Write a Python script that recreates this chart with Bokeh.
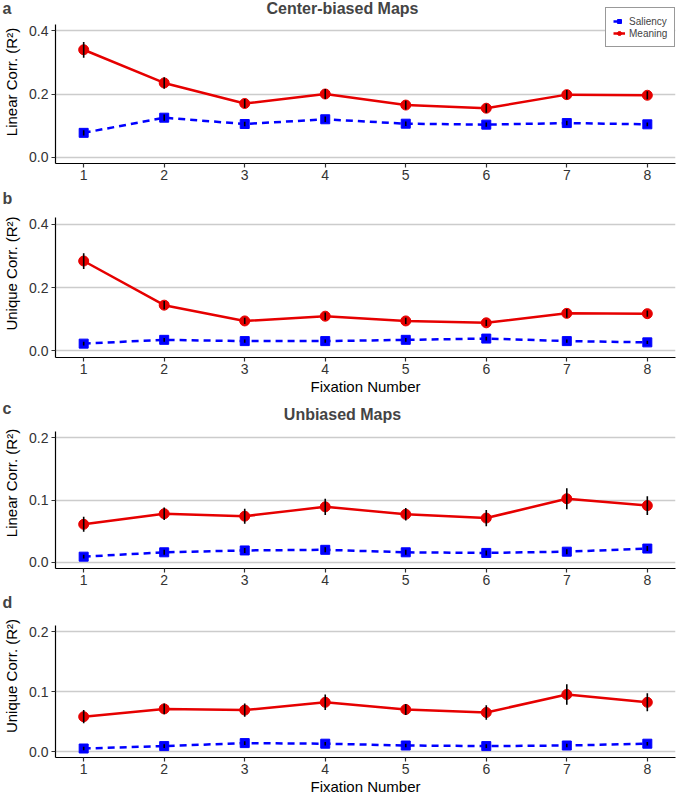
from bokeh.plotting import figure
from bokeh.layouts import column
from bokeh.models import Range1d, FixedTicker, Label, Legend, LegendItem, NumeralTickFormatter
from bokeh.embed import file_html
from bokeh.resources import INLINE

fixation = [1, 2, 3, 4, 5, 6, 7, 8]

# Panel a: center-biased, linear correlation
a_meaning = [0.340, 0.235, 0.170, 0.200, 0.165, 0.155, 0.198, 0.196]
a_meaning_err = [0.025, 0.018, 0.014, 0.016, 0.014, 0.014, 0.015, 0.013]
a_saliency = [0.077, 0.125, 0.105, 0.120, 0.106, 0.103, 0.108, 0.104]
a_saliency_err = [0.008, 0.010, 0.007, 0.009, 0.007, 0.007, 0.007, 0.006]

# Panel b: center-biased, unique correlation
b_meaning = [0.284, 0.144, 0.094, 0.109, 0.094, 0.088, 0.118, 0.117]
b_meaning_err = [0.025, 0.013, 0.010, 0.012, 0.010, 0.010, 0.014, 0.010]
b_saliency = [0.022, 0.034, 0.030, 0.030, 0.034, 0.038, 0.030, 0.026]
b_saliency_err = [0.006, 0.006, 0.005, 0.005, 0.006, 0.006, 0.005, 0.005]

# Panel c: unbiased, linear correlation
c_meaning = [0.061, 0.078, 0.074, 0.089, 0.077, 0.071, 0.102, 0.091]
c_meaning_err = [0.012, 0.010, 0.012, 0.013, 0.010, 0.013, 0.017, 0.015]
c_saliency = [0.009, 0.016, 0.019, 0.020, 0.016, 0.015, 0.017, 0.022]
c_saliency_err = [0.003, 0.004, 0.004, 0.004, 0.004, 0.004, 0.004, 0.004]

# Panel d: unbiased, unique correlation
d_meaning = [0.058, 0.071, 0.069, 0.082, 0.070, 0.065, 0.095, 0.082]
d_meaning_err = [0.011, 0.009, 0.011, 0.013, 0.009, 0.012, 0.017, 0.015]
d_saliency = [0.005, 0.009, 0.014, 0.013, 0.010, 0.009, 0.010, 0.013]
d_saliency_err = [0.003, 0.003, 0.003, 0.003, 0.003, 0.003, 0.003, 0.003]

yticks_big = [0.0, 0.2, 0.4]
yticks_small = [0.0, 0.1, 0.2]

RED = "#e60000"
BLUE = "#0000ff"
FONT = "Liberation Sans"
LEFT = 55
RIGHT = 10
FRAME_W = 685 - LEFT - RIGHT


def panel(meaning, meaning_err, saliency, saliency_err, ylabel, yticks, ylims,
          frame_h, bottom, top_px, letter, letter_dy, title=None, title_dy=0,
          xlabel=None, legend=False):
    lo, hi = ylims
    px_per_unit = (frame_h - top_px) / (hi - lo)
    y_top = hi + top_px / px_per_unit
    p = figure(frame_width=FRAME_W, frame_height=frame_h, output_backend="svg",
               toolbar_location=None,
               x_range=Range1d(0.65, 8.35), y_range=Range1d(lo, y_top),
               min_border_left=LEFT, min_border_right=RIGHT,
               min_border_top=0, min_border_bottom=bottom)
    p.outline_line_color = None
    p.background_fill_color = "white"
    p.xgrid.grid_line_color = None
    p.ygrid.grid_line_color = "#cccccc"
    p.ygrid.grid_line_width = 1.4

    p.xaxis.ticker = FixedTicker(ticks=fixation)
    p.yaxis.ticker = FixedTicker(ticks=yticks)
    p.yaxis.formatter = NumeralTickFormatter(format="0.0")
    p.yaxis.bounds = (lo, hi)
    for ax in (p.xaxis, p.yaxis):
        ax.axis_line_color = "black"
        ax.axis_line_width = 1.2
        ax.major_tick_line_color = "#333333"
        ax.major_tick_line_width = 1.2
        ax.major_tick_out = 4
        ax.major_tick_in = 0
        ax.minor_tick_line_color = None
        ax.major_label_text_font = FONT
        ax.major_label_text_font_size = "14px"
        ax.major_label_text_color = "#333333"
        ax.axis_label_text_font = FONT
        ax.axis_label_text_font_size = "15px"
        ax.axis_label_text_font_style = "normal"
        ax.axis_label_text_color = "black"
    p.xaxis.major_label_standoff = 2
    p.xaxis.axis_label_standoff = 1
    p.yaxis.major_label_standoff = 3
    p.yaxis.axis_label_standoff = 6
    p.yaxis.axis_label = ylabel
    if xlabel:
        p.xaxis.axis_label = xlabel

    s_line = p.line(fixation, saliency, line_color=BLUE, line_width=2.5, line_dash="7 5")
    m_line = p.line(fixation, meaning, line_color=RED, line_width=2.5)
    s_pts = p.scatter(fixation, saliency, marker="square", size=9, fill_color=BLUE,
                      line_color=BLUE)
    m_pts = p.scatter(fixation, meaning, marker="circle", size=10, fill_color=RED,
                      line_color=RED)
    m_lo = [v - e for v, e in zip(meaning, meaning_err)]
    m_hi = [v + e for v, e in zip(meaning, meaning_err)]
    s_lo = [v - e for v, e in zip(saliency, saliency_err)]
    s_hi = [v + e for v, e in zip(saliency, saliency_err)]
    p.segment(fixation, m_lo, fixation, m_hi, line_color="black", line_width=1.6)
    p.segment(fixation, s_lo, fixation, s_hi, line_color="black", line_width=1.6)

    # panel letter: in the right side panel (not clipped), shifted to the canvas left
    p.add_layout(Label(x=2 - (LEFT + FRAME_W), y=frame_h - letter_dy,
                       x_units="screen", y_units="screen",
                       text=letter, text_font=FONT, text_font_size="16px",
                       text_font_style="bold", text_baseline="middle",
                       text_align="left"), "right")
    if title:
        p.add_layout(Label(x=342 - LEFT, y=frame_h - title_dy, x_units="screen",
                           y_units="screen", text=title, text_font=FONT,
                           text_font_size="16px", text_font_style="bold",
                           text_baseline="middle", text_align="center"))
    if legend:
        lg = Legend(items=[LegendItem(label="Saliency", renderers=[s_line, s_pts]),
                           LegendItem(label="Meaning", renderers=[m_line, m_pts])],
                    location=(550, frame_h - 47))
        lg.label_text_font = FONT
        lg.label_text_font_size = "10px"
        lg.label_height = 12
        lg.glyph_height = 10
        lg.glyph_width = 12
        lg.label_standoff = 4
        lg.spacing = 0
        lg.padding = 7
        lg.margin = 0
        lg.border_line_color = "#333333"
        lg.border_line_width = 1.2
        lg.background_fill_color = "white"
        lg.background_fill_alpha = 1
        p.add_layout(lg)
    return p


pa = panel(a_meaning, a_meaning_err, a_saliency, a_saliency_err, "Linear Corr. (R²)",
           yticks_big, (-0.02, 0.42), 163, 26, 24, "a", 8,
           title="Center-biased Maps", title_dy=8, legend=True)
pb = panel(b_meaning, b_meaning_err, b_saliency, b_saliency_err, "Unique Corr. (R²)",
           yticks_big, (-0.022, 0.422), 168, 40, 28, "b", 9, xlabel="Fixation Number")
pc = panel(c_meaning, c_meaning_err, c_saliency, c_saliency_err, "Linear Corr. (R²)",
           yticks_small, (-0.01, 0.21), 171, 26, 34, "c", 11,
           title="Unbiased Maps", title_dy=17)
pd = panel(d_meaning, d_meaning_err, d_saliency, d_saliency_err, "Unique Corr. (R²)",
           yticks_small, (-0.01, 0.21), 163, 40, 31, "d", 8, xlabel="Fixation Number")

layout = column(pa, pb, pc, pd, spacing=0)
open("out.html", "w").write(file_html(layout, INLINE))
